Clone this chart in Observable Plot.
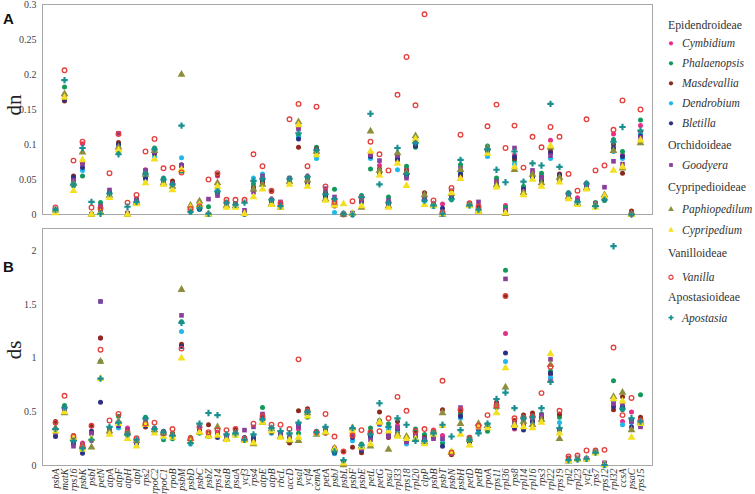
<!DOCTYPE html>
<html><head><meta charset="utf-8">
<script src="https://cdn.jsdelivr.net/npm/d3@7"></script>
<script src="https://cdn.jsdelivr.net/npm/@observablehq/plot@0.6"></script>
<style>
body{margin:0;background:#fff}
#wrap{position:relative;width:755px;height:494px;overflow:hidden;background:#fff;font-family:"Liberation Serif",serif}
.abs{position:absolute}
.letter{font-family:"Liberation Sans",Arial,sans-serif;font-weight:bold;font-size:15px;color:#111;line-height:15px}
.ylab{font-family:"Liberation Serif",serif;font-size:21px;color:#222;transform:rotate(-90deg);line-height:22px;width:24px;text-align:center}
</style></head><body>
<div id="wrap">
  <div id="pa" class="abs" style="left:0;top:0"></div>
  <div id="pb" class="abs" style="left:0;top:223px"></div>
  <div class="abs letter" style="left:3px;top:11px">A</div>
  <div class="abs letter" style="left:3px;top:259px">B</div>
  <div class="abs ylab" style="left:2px;top:94px">dn</div>
  <div class="abs ylab" style="left:2px;top:339px">ds</div>
  <div id="legend" class="abs" style="left:655px;top:0"></div>
</div>
<script>
const genes = ["psbA","matK","rps16","psbK","psbI","petN","atpA","atpF","atpH","atpI","rps2","rpoC2","rpoC1","rpoB","psbM","psbD","psbC","psbZ","rps14","psaB","psaA","ycf3","rps4","atpE","atpB","rbcL","accD","psaI","ycf4","cemA","petA","psbJ","psbL","psbF","psbE","petL","petG","psaJ","rpl33","rps18","rpl20","clpP","psbB","psbT","psbN","psbH","petD","petB","rpoA","rps11","rpl36","rps8","rpl14","rpl16","rps3","rpl22","rps19","rpl2","rpl23","ycf2","rps7","rps12","rpl32","ccsA","psaC","rps15"];
const species = ["Cymbidium","Phalaenopsis","Masdevallia","Dendrobium","Bletilla","Goodyera","Paphiopedilum","Cypripedium","Vanilla","Apostasia"];
const subfamilies = ["Epidendroideae","Epidendroideae","Epidendroideae","Epidendroideae","Epidendroideae","Orchidoideae","Cypripedioideae","Cypripedioideae","Vanilloideae","Apostasioideae"];
const colors = ["#e62e8b","#12995a","#8b2a1c","#1db8ec","#2c2f86","#8b3d9b","#8e8d3e","#f4e01e","#e5403d","#17908f"];
const symbols = ["circle","circle","circle","circle","circle","square","triangle","triangle","circle","cross"];
const dnTicks = [0,0.05,0.1,0.15,0.2,0.25,0.3];
const dsTicks = [0,0.5,1,1.5,2];

// rows = genes (order above), columns = species (order above)
const dnValues = [
[.004,.005,.003,.004,.003,.004,.006,.002,.010,.007],
[.168,.182,.162,.166,.164,.170,.172,.167,.206,.192],
[.050,.041,.055,.047,.053,.049,.044,.034,.077,.043],
[.101,.055,.074,.063,.067,.072,.089,.078,.104,.095],
[.001,.000,.000,.001,.000,.000,.000,.000,.010,.018],
[.011,.017,.008,.005,.004,.012,.003,.002,.009,.001],
[.030,.027,.032,.029,.030,.035,.027,.024,.059,.030],
[.116,.090,.103,.099,.100,.116,.096,.092,.115,.086],
[.001,.001,.002,.000,.001,.002,.000,.000,.017,.011],
[.020,.016,.022,.018,.019,.021,.017,.015,.028,.018],
[.064,.060,.055,.050,.052,.063,.057,.045,.090,.058],
[.090,.095,.088,.083,.087,.089,.091,.079,.108,.093],
[.047,.052,.046,.045,.044,.046,.045,.043,.066,.050],
[.045,.042,.048,.040,.041,.044,.040,.035,.067,.043],
[.062,.062,.069,.081,.071,.070,.200,.064,.060,.127],
[.006,.004,.007,.005,.006,.008,.013,.010,.008,.004],
[.009,.008,.010,.007,.008,.011,.019,.014,.012,.009],
[.000,.011,.001,.000,.000,.022,.000,.000,.050,.001],
[.055,.038,.057,.035,.030,.027,.045,.040,.059,.033],
[.016,.014,.017,.012,.011,.015,.013,.010,.021,.017],
[.014,.013,.012,.011,.015,.016,.012,.010,.021,.014],
[.002,.000,.001,.003,.002,.006,.001,.001,.021,.017],
[.040,.044,.038,.052,.035,.032,.036,.025,.086,.048],
[.052,.047,.045,.058,.050,.055,.043,.036,.069,.051],
[.022,.018,.033,.016,.017,.020,.015,.014,.034,.021],
[.014,.012,.015,.011,.013,.018,.010,.010,.016,.012],
[.050,.049,.046,.045,.048,.052,.047,.043,.136,.051],
[.124,.113,.096,.110,.108,.122,.132,.128,.158,.116],
[.055,.052,.050,.044,.046,.048,.049,.040,.069,.054],
[.088,.096,.094,.080,.089,.091,.090,.085,.154,.092],
[.032,.027,.030,.025,.026,.037,.022,.020,.040,.029],
[.020,.036,.012,.003,.015,.025,.016,.013,.018,.022],
[.001,.000,.000,.001,.000,.001,.000,.015,.000,.001],
[.001,.000,.002,.001,.000,.002,.001,.001,.019,.000],
[.022,.027,.018,.017,.019,.021,.010,.012,.024,.025],
[.087,.065,.082,.080,.083,.085,.119,.090,.104,.144],
[.070,.059,.065,.062,.061,.077,.063,.056,.086,.043],
[.018,.025,.016,.014,.013,.020,.012,.010,.063,.017],
[.085,.082,.078,.064,.080,.084,.088,.073,.171,.095],
[.065,.069,.062,.057,.055,.052,.060,.041,.225,.058],
[.104,.096,.100,.099,.098,.106,.112,.108,.156,.102],
[.026,.022,.031,.019,.021,.024,.028,.014,.286,.020],
[.016,.014,.013,.011,.012,.015,.014,.012,.020,.013],
[.015,.002,.001,.004,.009,.001,.000,.001,.003,.001],
[.025,.021,.034,.023,.026,.028,.030,.031,.038,.022],
[.062,.071,.055,.060,.058,.066,.064,.051,.114,.078],
[.014,.013,.015,.012,.013,.016,.014,.012,.016,.013],
[.010,.006,.012,.008,.009,.018,.005,.004,.011,.007],
[.092,.098,.094,.083,.089,.090,.095,.087,.126,.093],
[.050,.052,.045,.043,.044,.047,.042,.039,.157,.064],
[.013,.010,.003,.005,.004,.006,.001,.002,.095,.046],
[.085,.077,.080,.072,.082,.095,.064,.068,.127,.090],
[.038,.040,.034,.032,.036,.033,.031,.028,.067,.047],
[.060,.058,.056,.052,.054,.063,.057,.050,.111,.073],
[.055,.059,.052,.050,.048,.053,.045,.040,.096,.070],
[.106,.094,.090,.080,.088,.084,.096,.098,.125,.158],
[.054,.052,.058,.050,.056,.048,.053,.046,.111,.068],
[.028,.031,.024,.026,.027,.029,.025,.022,.058,.030],
[.024,.015,.018,.017,.019,.020,.016,.014,.034,.018],
[.042,.045,.040,.039,.041,.043,.038,.036,.136,.044],
[.015,.017,.014,.013,.012,.016,.014,.010,.063,.012],
[.025,.020,.023,.024,.022,.039,.028,.026,.070,.021],
[.115,.107,.100,.090,.095,.076,.091,.063,.121,.104],
[.085,.090,.059,.080,.083,.072,.066,.068,.163,.125],
[.001,.000,.005,.001,.000,.001,.000,.000,.001,.000],
[.127,.135,.118,.115,.112,.110,.102,.106,.150,.120]
];
const dsValues = [
[.30,.33,.41,.29,.27,.31,.35,.32,.40,.34],
[.52,.56,.50,.52,.51,.53,.49,.50,.65,.54],
[.24,.22,.28,.21,.20,.18,.25,.26,.27,.23],
[.21,.17,.16,.14,.115,.19,.18,.15,.18,.16],
[.23,.30,.37,.31,.32,.30,.17,.25,.37,.24],
[1.19,.97,1.19,1.53,.59,1.53,.97,.81,1.08,.81],
[.33,.31,.30,.30,.31,.34,.32,.29,.42,.36],
[.40,.46,.39,.35,.37,.38,.41,.39,.48,.40],
[.35,.29,.31,.28,.30,.33,.30,.25,.31,.29],
[.21,.23,.22,.20,.21,.22,.23,.18,.255,.24],
[.40,.45,.36,.38,.37,.42,.39,.38,.39,.44],
[.33,.35,.32,.31,.33,.34,.33,.30,.40,.34],
[.27,.24,.29,.26,.32,.28,.30,.27,.30,.31],
[.28,.25,.30,.27,.26,.28,.29,.26,.34,.28],
[1.12,1.34,1.13,1.25,1.11,1.40,1.64,1.00,1.09,1.33],
[.22,.21,.26,.20,.24,.23,.25,.22,.25,.21],
[.34,.30,.33,.36,.32,.35,.31,.31,.36,.39],
[.30,.27,.38,.28,.29,.30,.28,.27,.31,.49],
[.31,.28,.30,.29,.26,.30,.36,.28,.33,.47],
[.27,.24,.28,.26,.25,.26,.25,.24,.33,.29],
[.30,.29,.34,.28,.29,.31,.30,.28,.34,.30],
[.25,.24,.24,.25,.26,.33,.24,.23,.25,.24],
[.22,.23,.25,.27,.26,.36,.20,.21,.39,.29],
[.47,.54,.43,.44,.45,.48,.40,.40,.46,.43],
[.34,.32,.35,.30,.31,.33,.34,.32,.38,.35],
[.29,.28,.31,.30,.29,.30,.27,.26,.38,.32],
[.25,.24,.21,.26,.25,.27,.23,.24,.34,.30],
[.34,.30,.51,.39,.37,.36,.23,.26,.99,.40],
[.52,.45,.53,.47,.50,.48,.49,.46,.51,.50],
[.30,.30,.32,.30,.31,.31,.29,.30,.31,.31],
[.32,.31,.30,.33,.32,.34,.31,.31,.48,.36],
[.165,.14,.13,.11,.12,.15,.16,.15,.27,.13],
[.04,.03,.13,.04,.03,.02,.005,.02,.13,.05],
[.30,.27,.17,.23,.26,.29,.35,.32,.28,.35],
[.17,.20,.12,.16,.14,.155,.18,.17,.33,.19],
[.30,.35,.31,.26,.27,.24,.18,.20,.31,.29],
[.40,.42,.50,.38,.40,.39,.41,.40,.32,.58],
[.30,.39,.26,.34,.28,.27,.15,.32,.44,.36],
[.37,.31,.41,.33,.34,.35,.29,.27,.64,.44],
[.25,.26,.24,.20,.23,.22,.27,.25,.51,.38],
[.31,.34,.30,.27,.26,.28,.24,.25,.32,.23],
[.27,.29,.26,.24,.25,.25,.22,.20,.34,.23],
[.33,.30,.28,.27,.26,.25,.31,.29,.32,.30],
[.28,.21,.52,.24,.18,.25,.49,.37,.79,.38],
[.12,.13,.10,.11,.12,.11,.12,.13,.12,.27],
[.47,.49,.51,.44,.46,.54,.39,.29,.52,.33],
[.24,.25,.26,.23,.22,.25,.24,.19,.26,.24],
[.35,.33,.36,.32,.34,.35,.39,.36,.37,.30],
[.36,.32,.37,.38,.35,.36,.37,.35,.47,.39],
[.56,.54,.59,.55,.56,.57,.55,.49,.56,.62],
[1.23,1.82,1.58,.97,1.05,1.74,.73,.91,1.58,.68],
[.34,.37,.42,.36,.35,.39,.38,.37,.44,.535],
[.40,.43,.47,.38,.33,.39,.41,.36,.45,.44],
[.42,.47,.49,.40,.41,.44,.38,.35,.46,.45],
[.44,.48,.45,.42,.43,.47,.43,.40,.675,.535],
[.80,.88,.85,.82,.86,.99,.94,1.04,.92,.78],
[.47,.45,.48,.40,.34,.33,.25,.30,.51,.35],
[.06,.05,.07,.06,.055,.06,.04,.045,.084,.05],
[.07,.053,.065,.06,.06,.07,.06,.055,.093,.055],
[.065,.062,.06,.06,.06,.065,.06,.058,.14,.063],
[.13,.12,.14,.125,.13,.13,.125,.115,.14,.12],
[.01,.00,.02,.01,.01,.025,.01,.005,.146,.005],
[.60,.79,.52,.58,.55,.575,.64,.62,1.10,2.045],
[.41,.52,.64,.38,.55,.58,.68,.60,.47,.53],
[.50,.43,.42,.40,.36,.41,.33,.26,.63,.44],
[.38,.66,.45,.37,.38,.36,.40,.39,.42,.41]
];

const recs = [];
genes.forEach((g, i) => species.forEach((s, j) => recs.push({gene: g, sp: s, dn: dnValues[i][j], ds: dsValues[i][j]})));

const radii = [2.5,2.5,2.5,2.5,2.5,2.6,2.9,2.9,2.3,2.7];
function dots(key) {
  return species.map((s, j) => {
    const open = s === "Vanilla";
    return Plot.dot(recs.filter(r => r.sp === s), {
      x: "gene", y: key, symbol: symbols[j], r: radii[j],
      fill: open ? "none" : colors[j],
      stroke: open ? colors[j] : "none",
      strokeWidth: open ? 1.3 : 0
    });
  });
}
const fmt = d => String(+d.toFixed(2));
const common = {
  width: 660, marginLeft: 42, marginRight: 8,
  style: {background: "transparent", fontFamily: "Liberation Serif, serif", color: "#444", overflow: "visible"}
};

const pa = Plot.plot({
  ...common, height: 228, marginTop: 4, marginBottom: 14,
  x: {type: "point", domain: genes, padding: 1.1, axis: null},
  y: {domain: [0, 0.3]},
  marks: [
    Plot.frame({stroke: "#a8a8a8"}),
    Plot.axisY({ticks: dnTicks, tickSize: 0, tickPadding: 6, tickFormat: fmt, fontSize: 10, label: null}),
    ...dots("dn")
  ]
});
document.getElementById("pa").append(pa);

const pb = Plot.plot({
  ...common, height: 271, marginTop: 5, marginBottom: 29,
  x: {type: "point", domain: genes, padding: 1.1},
  y: {domain: [0, 2.21]},
  marks: [
    Plot.frame({stroke: "#a8a8a8"}),
    Plot.axisY({ticks: dsTicks, tickSize: 0, tickPadding: 6, tickFormat: fmt, fontSize: 10, label: null}),
    Plot.axisX({tickRotate: -90, tickSize: 0, tickPadding: 3, fontSize: 10, fontStyle: "italic", label: null, fill: "#333"}),
    ...dots("ds")
  ]
});
document.getElementById("pb").append(pb);

// legend
const lsvg = d3.select("#legend").append("svg").attr("width", 100).attr("height", 340);
const itemY = [43.3, 63.3, 83.3, 103.3, 123.3, 165, 209.3, 230, 277.3, 317.7];
const headerY = {"Epidendroideae": 25, "Orchidoideae": 145, "Cypripedioideae": 186.7, "Vanilloideae": 253.3, "Apostasioideae": 296.7};
Object.entries(headerY).forEach(([t, y]) => {
  lsvg.append("text").attr("x", 13).attr("y", y).attr("dy", "0.35em")
    .attr("font-family", "Liberation Serif, serif").attr("font-size", 11.8).attr("fill", "#333").text(t);
});
const d3sym = {circle: d3.symbolCircle, square: d3.symbolSquare, triangle: d3.symbolTriangle, cross: d3.symbolCross};
species.forEach((s, j) => {
  const y = itemY[j];
  const open = s === "Vanilla";
  lsvg.append("path").attr("transform", `translate(16,${y})`)
    .attr("d", d3.symbol(d3sym[symbols[j]], 14)())
    .attr("fill", open ? "none" : colors[j]).attr("stroke", open ? colors[j] : "none").attr("stroke-width", 1.2);
  lsvg.append("text").attr("x", 27).attr("y", y).attr("dy", "0.35em")
    .attr("font-family", "Liberation Serif, serif").attr("font-style", "italic").attr("font-size", 11.5).attr("fill", "#333").text(s);
});
</script>
</body></html>
